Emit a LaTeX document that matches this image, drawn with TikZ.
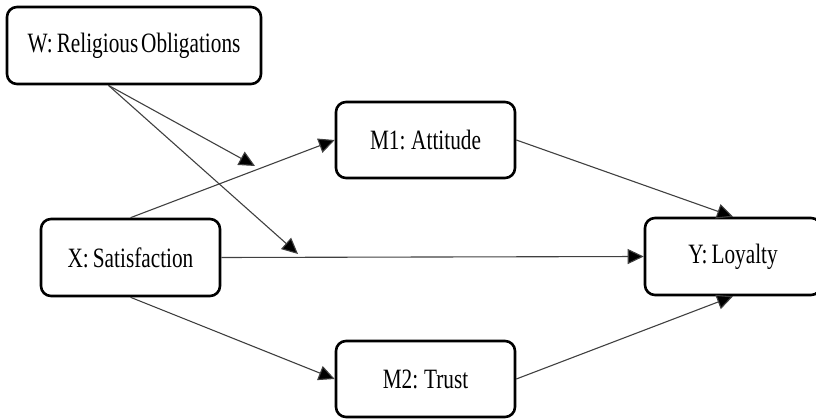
\documentclass[tikz,border=0pt]{standalone}
\usepackage{fontspec}
\setmainfont{Liberation Serif}[FakeStretch=0.76,WordSpace=0.75]
\usetikzlibrary{arrows.meta,calc}
\begin{document}
\begin{tikzpicture}[x=1pt,y=-1pt,
  box/.style={draw=black,line width=2.6pt,rounded corners=10pt,fill=white,
    inner sep=0pt,font=\fontsize{28}{32}\selectfont},
  conn/.style={draw=black!75,line width=1.1pt,
    -{Triangle[length=16pt,width=15pt,fill=black]}}]
\clip (0,0) rectangle (816,419);
\node[box,minimum width=254pt,minimum height=77pt] (W) at (134,45.5) {W: Religious\kern0.1em Obligations};
\node[box,minimum width=179pt,minimum height=76pt] (M1) at (425.5,140) {M1: Attitude};
\node[box,minimum width=179pt,minimum height=77pt] (X) at (130.5,257.5) {X: Satisfaction};
\node[box,minimum width=176pt,minimum height=77pt] (Y) at (733,256.5) {Y: Loyalty};
\node[box,minimum width=179pt,minimum height=76pt] (M2) at (425.5,379) {M2: Trust};
\coordinate (Ws) at ($(W.south west)!0.4!(W.south east)$);
\coordinate (p1) at (255,166);
\coordinate (p2) at (298,254);
\draw[conn] (X.north) -- (M1.west);
\draw[conn] (X.east) -- (Y.west);
\draw[conn] (X.south) -- (M2.west);
\draw[conn] (M1.east) -- (Y.north);
\draw[conn] (M2.east) -- (Y.south);
\draw[conn] (Ws) -- (p1);
\draw[conn] (Ws) -- (p2);
\end{tikzpicture}
\end{document}
